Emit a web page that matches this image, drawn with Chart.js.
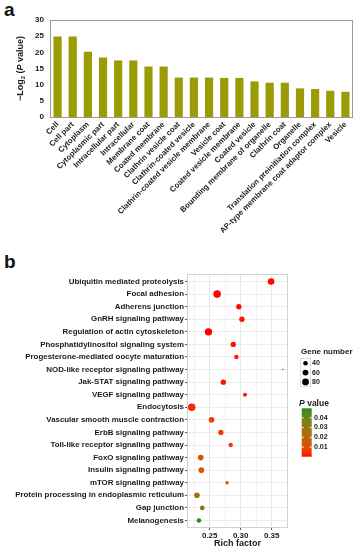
<!DOCTYPE html>
<html>
<head>
<meta charset="utf-8">
<script src="https://cdn.jsdelivr.net/npm/chart.js@4.4.1/dist/chart.umd.min.js"></script>
<style>
  body { margin: 0; background: #fff; width: 358px; height: 550px; position: relative; overflow: hidden; }
  canvas { position: absolute; left: 0; }
  #chartA { top: 0; }
  #chartB { top: 250px; }
  .tag { position: absolute; left: 4px; font: bold 19px "Liberation Sans", Arial, sans-serif; color: #111; }
</style>
</head>
<body>
<div class="tag" style="top:-1px">a</div>
<div class="tag" style="top:251px">b</div>
<canvas id="chartA" width="358" height="250"></canvas>
<canvas id="chartB" width="358" height="300"></canvas>
<script>
// ---- panel a: GO terms ----
const goTerms = [
  'Cell', 'Cell part', 'Cytoplasm', 'Cytoplasmic part', 'Intracellular part',
  'Intracellular', 'Membrane coat', 'Coated membrane', 'Clathrin vesicle coat',
  'Clathrin-coated vesicle', 'Clathrin-coated vesicle membrane', 'Vesicle coat',
  'Coated vesicle membrane', 'Coated vesicle', 'Bounding membrane of organelle',
  'Clathrin coat', 'Organelle', 'Translation preinitiation complex',
  'AP-type membrane coat adaptor complex', 'Vesicle'
];
const negLog2P = [24.9, 24.9, 20.2, 18.4, 17.5, 17.5, 15.6, 15.6, 12.2, 12.2,
                  12.2, 12.1, 12.1, 11.0, 10.6, 10.6, 8.85, 8.65, 8.1, 7.8];
const yTicksA = [0, 5, 10, 15, 20, 25, 30];

// ---- panel b: KEGG pathways ----
const pathways = [
  'Ubiquitin mediated proteolysis', 'Focal adhesion', 'Adherens junction',
  'GnRH signaling pathway', 'Regulation of actin cytoskeleton',
  'Phosphatidylinositol signaling system', 'Progesterone-mediated oocyte maturation',
  'NOD-like receptor signaling pathway', 'Jak-STAT signaling pathway',
  'VEGF signaling pathway', 'Endocytosis', 'Vascular smooth muscle contraction',
  'ErbB signaling pathway', 'Toll-like receptor signaling pathway',
  'FoxO signaling pathway', 'Insulin signaling pathway', 'mTOR signaling pathway',
  'Protein processing in endoplasmic reticulum', 'Gap junction', 'Melanogenesis'
];
const richFactor = [0.349, 0.262, 0.297, 0.302, 0.248, 0.288, 0.293, 0.368, 0.272, 0.307,
                    0.221, 0.253, 0.268, 0.284, 0.2355, 0.2365, 0.278, 0.2295, 0.238, 0.2327];
const geneNumber = [75, 98, 52, 52, 95, 52, 37, 18, 50, 32,
                    100, 56, 50, 37, 56, 56, 27, 56, 40, 40];
const pValue = [0.0005, 0.0003, 0.0008, 0.001, 0.0002, 0.001, 0.0012, 0.0015, 0.001, 0.0015,
                0.003, 0.006, 0.006, 0.007, 0.012, 0.013, 0.015, 0.025, 0.036, 0.0497];
const xTicksB = [0.25, 0.30, 0.35];
const sizeLegend = [40, 60, 80];
const colorLegend = [0.01, 0.02, 0.03, 0.04];

const FONT = '"Liberation Sans", Arial, sans-serif';

// point size like ggplot area scale
const gMin = Math.min(...geneNumber), gMax = Math.max(...geneNumber);
const radiusOf = n => 0.7 + 3.1 * Math.sqrt(Math.max(0, (n - gMin) / (gMax - gMin)));

// red -> forestgreen, interpolated in Lab like ggplot
function toLab(hex) {
  let c = [1, 3, 5].map(i => parseInt(hex.substr(i, 2), 16) / 255)
    .map(v => v > 0.04045 ? Math.pow((v + 0.055) / 1.055, 2.4) : v / 12.92);
  const X = (c[0] * 0.4124 + c[1] * 0.3576 + c[2] * 0.1805) / 0.95047;
  const Y = c[0] * 0.2126 + c[1] * 0.7152 + c[2] * 0.0722;
  const Z = (c[0] * 0.0193 + c[1] * 0.1192 + c[2] * 0.9505) / 1.08883;
  const f = t => t > 0.008856 ? Math.cbrt(t) : 7.787 * t + 16 / 116;
  return [116 * f(Y) - 16, 500 * (f(X) - f(Y)), 200 * (f(Y) - f(Z))];
}
function fromLab(L, a, b) {
  const fy = (L + 16) / 116, fx = fy + a / 500, fz = fy - b / 200;
  const inv = t => t * t * t > 0.008856 ? t * t * t : (t - 16 / 116) / 7.787;
  const X = inv(fx) * 0.95047, Y = inv(fy), Z = inv(fz) * 1.08883;
  let r = X * 3.2406 + Y * -1.5372 + Z * -0.4986;
  let g = X * -0.9689 + Y * 1.8758 + Z * 0.0415;
  let bl = X * 0.0557 + Y * -0.2040 + Z * 1.0570;
  const gam = v => {
    v = v > 0.0031308 ? 1.055 * Math.pow(v, 1 / 2.4) - 0.055 : 12.92 * v;
    return Math.round(Math.min(1, Math.max(0, v)) * 255);
  };
  return `rgb(${gam(r)},${gam(g)},${gam(bl)})`;
}
const labLow = toLab('#FF0000'), labHigh = toLab('#228B22');
const pMin = Math.min(...pValue), pMax = Math.max(...pValue);
function colorOf(p) {
  const t = Math.min(1, Math.max(0, (p - pMin) / (pMax - pMin)));
  return fromLab(...labLow.map((v, i) => v + (labHigh[i] - v) * t));
}

// draws text pieces in a row (for subscripts / italics)
function richText(ctx, parts, cx, cy) {
  let w = 0;
  parts.forEach(p => { ctx.font = p.f; w += ctx.measureText(p.t).width; });
  let x = cx - w / 2;
  parts.forEach(p => {
    ctx.font = p.f;
    ctx.fillText(p.t, x, cy + (p.dy || 0));
    x += ctx.measureText(p.t).width;
  });
}

// ---------------- chart a ----------------
new Chart(document.getElementById('chartA'), {
  type: 'bar',
  data: {
    labels: goTerms,
    datasets: [{
      data: negLog2P,
      backgroundColor: '#9b9b05',
      barPercentage: 0.54,
      categoryPercentage: 1
    }]
  },
  options: {
    responsive: false,
    animation: false,
    layout: { padding: { top: 20, right: 5, left: 0, bottom: 0 } },
    plugins: { legend: { display: false }, tooltip: { enabled: false } },
    scales: {
      x: {
        grid: { display: false, drawTicks: false },
        border: { display: false },
        ticks: {
          autoSkip: false, minRotation: 45, maxRotation: 45, padding: 3,
          color: '#1a1a1a', font: { family: FONT, size: 7.8, weight: 'bold' }
        },
        afterFit: s => { s.height = 133; }
      },
      y: {
        min: 0, max: 30,
        afterBuildTicks: s => { s.ticks = yTicksA.map(v => ({ value: v })); },
        grid: { display: false, drawTicks: false },
        border: { display: false },
        ticks: { padding: 6, color: '#1a1a1a', font: { family: FONT, size: 8, weight: 'bold' } },
        afterFit: s => { s.width = 50; }
      }
    }
  },
  plugins: [{
    id: 'frameA',
    afterDraw(chart) {
      const { ctx, chartArea: a } = chart;
      ctx.save();
      ctx.strokeStyle = '#9a9a9a';
      ctx.lineWidth = 1;
      ctx.strokeRect(a.left + 0.5, a.top + 0.5, a.right - a.left - 1, a.bottom - a.top);
      ctx.translate(21, (a.top + a.bottom) / 2);
      ctx.rotate(-Math.PI / 2);
      ctx.fillStyle = '#1a1a1a';
      ctx.textBaseline = 'middle';
      richText(ctx, [
        { t: '\u2212Log', f: `bold 9px ${FONT}` },
        { t: '2', f: `bold 6px ${FONT}`, dy: 2.5 },
        { t: ' (', f: `bold 9px ${FONT}` },
        { t: 'P', f: `italic bold 9px ${FONT}` },
        { t: ' value)', f: `bold 9px ${FONT}` }
      ], 0, 0);
      ctx.restore();
    }
  }]
});

// ---------------- chart b ----------------
new Chart(document.getElementById('chartB'), {
  type: 'bubble',
  data: {
    datasets: [{
      data: pathways.map((p, i) => ({ x: richFactor[i], y: i, r: radiusOf(geneNumber[i]) })),
      backgroundColor: pValue.map(colorOf),
      borderWidth: 0,
      hoverRadius: 0
    }]
  },
  options: {
    responsive: false,
    animation: false,
    layout: { padding: { top: 24, right: 70, left: 0, bottom: 0 } },
    plugins: { legend: { display: false }, tooltip: { enabled: false } },
    scales: {
      x: {
        type: 'linear',
        min: 0.2134, max: 0.3763,
        afterBuildTicks: s => { s.ticks = [0.225, 0.25, 0.275, 0.30, 0.325, 0.35, 0.375].map(v => ({ value: v })); },
        grid: {
          color: c => xTicksB.some(v => Math.abs(v - c.tick.value) < 1e-6) ? '#e6e6e6' : '#f3f3f3',
          tickColor: c => xTicksB.some(v => Math.abs(v - c.tick.value) < 1e-6) ? '#555' : 'rgba(0,0,0,0)',
          tickLength: 2
        },
        border: { display: false },
        ticks: {
          autoSkip: false, maxRotation: 0, minRotation: 0,
          padding: 1, color: '#1a1a1a', font: { family: FONT, size: 8, weight: 'bold' },
          callback: v => xTicksB.some(t => Math.abs(t - v) < 1e-6) ? v.toFixed(2) : ''
        },
        title: {
          display: true, text: 'Rich factor', color: '#1a1a1a',
          font: { family: FONT, size: 9, weight: 'bold' }, padding: { top: 0, bottom: 1 }
        },
        afterFit: s => { s.height = 22; }
      },
      y: {
        type: 'linear',
        min: -0.6, max: 19.6, reverse: true,
        afterBuildTicks: s => { s.ticks = pathways.map((p, i) => ({ value: i })); },
        grid: { color: '#ececec', tickColor: '#555', tickLength: 2 },
        border: { display: false },
        ticks: {
          autoSkip: false,
          padding: 1, color: '#1a1a1a', font: { family: FONT, size: 7.9, weight: 'bold' },
          callback: v => pathways[v]
        },
        afterFit: s => { s.width = 187; }
      }
    }
  },
  plugins: [{
    id: 'frameB',
    afterDraw(chart) {
      const { ctx, chartArea: a } = chart;
      ctx.save();
      ctx.strokeStyle = '#d2d2d2';
      ctx.lineWidth = 1;
      ctx.strokeRect(a.left + 0.5, a.top + 0.5, a.right - a.left - 1, a.bottom - a.top - 1);

      // gene number legend
      ctx.fillStyle = '#1a1a1a';
      ctx.textBaseline = 'middle';
      ctx.textAlign = 'left';
      ctx.font = `bold 8px ${FONT}`;
      ctx.fillText('Gene number', 301, 102);
      ctx.strokeStyle = '#dcdcdc';
      ctx.strokeRect(300.5, 108.5, 10, 28);
      sizeLegend.forEach((n, i) => {
        const y = 113.3 + i * 9.3;
        ctx.beginPath();
        ctx.arc(305.5, y, radiusOf(n), 0, Math.PI * 2);
        ctx.fillStyle = '#000';
        ctx.fill();
        ctx.fillStyle = '#1a1a1a';
        ctx.font = `bold 7px ${FONT}`;
        ctx.fillText(String(n), 312, y);
      });

      // p value colour bar
      richText(ctx, [
        { t: 'P', f: `italic bold 8.5px ${FONT}` },
        { t: ' value', f: `bold 8.5px ${FONT}` }
      ], 314, 153.3);
      const top = 158.3, bot = 206.7, x0 = 301.7, w = 10;
      const yOf = p => bot - (p - pMin) / (pMax - pMin) * (bot - top);
      const grad = ctx.createLinearGradient(0, bot, 0, top);
      for (let k = 0; k <= 20; k++) grad.addColorStop(k / 20, colorOf(pMin + (pMax - pMin) * k / 20));
      ctx.fillStyle = grad;
      ctx.fillRect(x0, top, w, bot - top);
      ctx.font = `bold 7px ${FONT}`;
      colorLegend.forEach(p => {
        const y = yOf(p);
        ctx.strokeStyle = '#fff';
        ctx.beginPath();
        ctx.moveTo(x0, y); ctx.lineTo(x0 + 2, y);
        ctx.moveTo(x0 + w - 2, y); ctx.lineTo(x0 + w, y);
        ctx.stroke();
        ctx.fillStyle = '#1a1a1a';
        ctx.fillText(p.toFixed(2), 314, y);
      });
      ctx.restore();
    }
  }]
});
</script>
</body>
</html>
